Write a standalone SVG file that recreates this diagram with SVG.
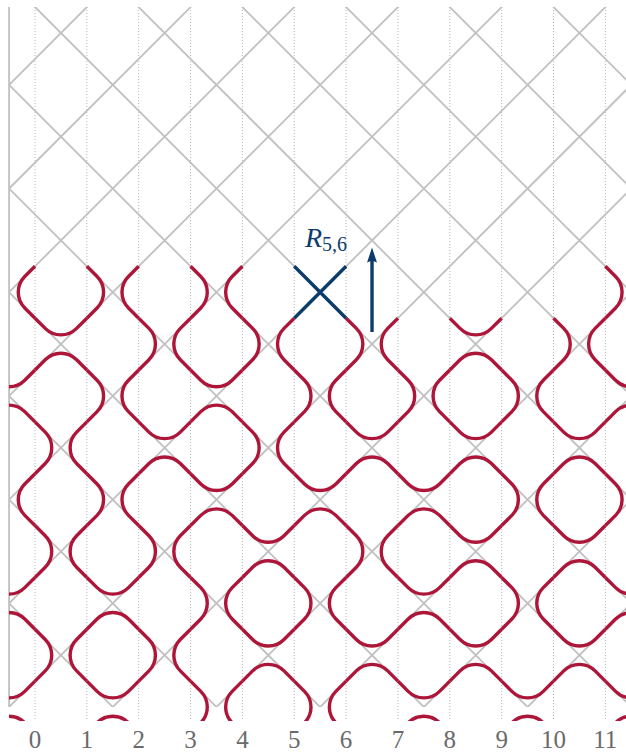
<svg xmlns="http://www.w3.org/2000/svg" width="626" height="754" viewBox="0 0 626 754">
<style>
.grid{stroke:#c0c0c0;stroke-width:1.8;fill:none}
.dot{stroke:#b3b3b3;stroke-width:1;stroke-dasharray:1 2;fill:none}
.loop{stroke:#ad1639;stroke-width:3.4;fill:none}
.op{stroke:#0c3c6c;stroke-width:3.4;fill:none}
.lab{font-family:"Liberation Serif",serif;font-size:25px;fill:#6a6a6a;text-anchor:middle}
.rlab{font-family:"Liberation Serif",serif;fill:#0c3c6c}
</style>
<defs>
<clipPath id="latclip"><rect x="9.075" y="7.075" width="640" height="699.975"/></clipPath>
<clipPath id="redclip"><rect x="9.075" y="0" width="640" height="721"/></clipPath>
<path id="H" d="M-25.925,-25.925 L-15.7,-15.7 A22.2,22.2 0 0 0 15.7,-15.7 L25.925,-25.925 M-25.925,25.925 L-15.7,15.7 A22.2,22.2 0 0 1 15.7,15.7 L25.925,25.925"/>
<path id="V" d="M-25.925,-25.925 L-15.7,-15.7 A22.2,22.2 0 0 1 -15.7,15.7 L-25.925,25.925 M25.925,-25.925 L15.7,-15.7 A22.2,22.2 0 0 0 15.7,15.7 L25.925,25.925"/>
</defs>

<g id="dotted" class="dot">
<path d="M35,7.075V721 M86.85,7.075V721 M138.7,7.075V721 M190.55,7.075V721 M242.4,7.075V721 M294.25,7.075V721 M346.1,7.075V721 M397.95,7.075V721 M449.8,7.075V721 M501.65,7.075V721 M553.5,7.075V721 M605.35,7.075V721"/>
</g>

<g id="lattice" class="grid">
<g clip-path="url(#latclip)">
<path d="M143.925,-50l-850,850 M247.625,-50l-850,850 M351.325,-50l-850,850 M455.025,-50l-850,850 M558.725,-50l-850,850 M662.425,-50l-850,850 M766.125,-50l-850,850 M869.825,-50l-850,850 M973.525,-50l-850,850 M1077.225,-50l-850,850 M1180.925,-50l-850,850 M1284.625,-50l-850,850 M1388.325,-50l-850,850"/>
<path d="M-747.975,-50l850,850 M-644.275,-50l850,850 M-540.575,-50l850,850 M-436.875,-50l850,850 M-333.175,-50l850,850 M-229.475,-50l850,850 M-125.775,-50l850,850 M-22.075,-50l850,850 M81.625,-50l850,850 M185.325,-50l850,850 M289.025,-50l850,850 M392.725,-50l850,850 M496.425,-50l850,850"/>
</g>
<path d="M9.075,7.075V707.05"/>
</g>

<g id="loops" class="loop" clip-path="url(#redclip)">
<use href="#V" x="9.075" y="292.25"/><use href="#V" x="112.775" y="292.25"/><use href="#V" x="216.475" y="292.25"/><use href="#V" x="631.275" y="292.25"/>
<use href="#H" x="60.925" y="344.1"/><use href="#V" x="164.625" y="344.1"/><use href="#V" x="268.325" y="344.1"/><use href="#V" x="372.025" y="344.1"/><use href="#H" x="475.725" y="344.1"/><use href="#V" x="579.425" y="344.1"/>
<use href="#H" x="9.075" y="395.95"/><use href="#V" x="112.775" y="395.95"/><use href="#H" x="216.475" y="395.95"/><use href="#V" x="320.175" y="395.95"/><use href="#V" x="423.875" y="395.95"/><use href="#V" x="527.575" y="395.95"/><use href="#H" x="631.275" y="395.95"/>
<use href="#V" x="60.925" y="447.8"/><use href="#H" x="164.625" y="447.8"/><use href="#V" x="268.325" y="447.8"/><use href="#H" x="372.025" y="447.8"/><use href="#H" x="475.725" y="447.8"/><use href="#H" x="579.425" y="447.8"/>
<use href="#V" x="9.075" y="499.65"/><use href="#V" x="112.775" y="499.65"/><use href="#H" x="216.475" y="499.65"/><use href="#H" x="320.175" y="499.65"/><use href="#H" x="423.875" y="499.65"/><use href="#V" x="527.575" y="499.65"/><use href="#V" x="631.275" y="499.65"/>
<use href="#V" x="60.925" y="551.5"/><use href="#V" x="164.625" y="551.5"/><use href="#H" x="268.325" y="551.5"/><use href="#V" x="372.025" y="551.5"/><use href="#H" x="475.725" y="551.5"/><use href="#H" x="579.425" y="551.5"/>
<use href="#H" x="9.075" y="603.35"/><use href="#H" x="112.775" y="603.35"/><use href="#V" x="216.475" y="603.35"/><use href="#V" x="320.175" y="603.35"/><use href="#H" x="423.875" y="603.35"/><use href="#V" x="527.575" y="603.35"/><use href="#H" x="631.275" y="603.35"/>
<use href="#V" x="60.925" y="655.2"/><use href="#V" x="164.625" y="655.2"/><use href="#H" x="268.325" y="655.2"/><use href="#H" x="372.025" y="655.2"/><use href="#H" x="475.725" y="655.2"/><use href="#H" x="579.425" y="655.2"/>
<use href="#H" x="9.075" y="707.05"/><use href="#H" x="112.775" y="707.05"/><use href="#V" x="216.475" y="707.05"/><use href="#V" x="320.175" y="707.05"/><use href="#H" x="423.875" y="707.05"/><use href="#H" x="527.575" y="707.05"/><use href="#H" x="631.275" y="707.05"/>
</g>

<g id="operator">
<path class="op" d="M294.25,266.325L346.1,318.175M346.1,266.325L294.25,318.175"/>
<path class="op" d="M372.025,332V259"/>
<path d="M372.025,247.5L377,262.5Q372.025,259.5 367.05,262.5Z" fill="#0c3c6c"/>
<text class="rlab" x="305" y="246.5" font-size="28" font-style="italic">R<tspan font-size="20" font-style="normal" dy="4.5">5,6</tspan></text>
</g>

<g id="labels" class="lab">
<text x="35" y="747.5">0</text><text x="86.85" y="747.5">1</text><text x="138.7" y="747.5">2</text><text x="190.55" y="747.5">3</text><text x="242.4" y="747.5">4</text><text x="294.25" y="747.5">5</text><text x="346.1" y="747.5">6</text><text x="397.95" y="747.5">7</text><text x="449.8" y="747.5">8</text><text x="501.65" y="747.5">9</text><text x="553.5" y="747.5">10</text><text x="605.35" y="747.5">11</text>
</g>
</svg>
